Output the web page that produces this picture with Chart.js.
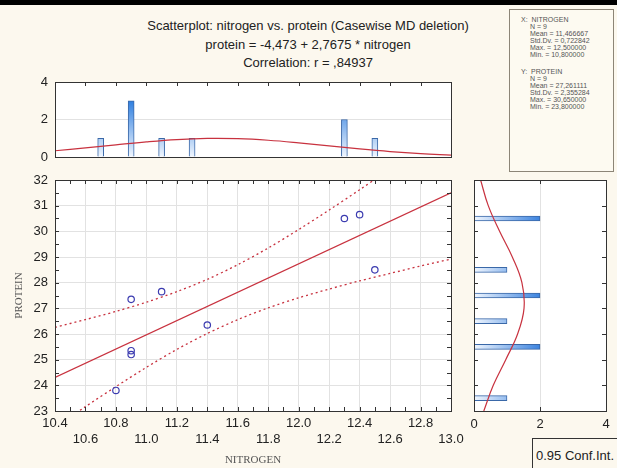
<!DOCTYPE html>
<html>
<head>
<meta charset="utf-8">
<script src="https://cdn.jsdelivr.net/npm/chart.js@4.4.1/dist/chart.umd.min.js"></script>
<style>
  html, body { margin: 0; padding: 0; }
  body { width: 617px; height: 468px; background: #fcf8ee; position: relative; overflow: hidden;
         font-family: "Liberation Sans", Arial, sans-serif; }
  canvas { position: absolute; }
  .topbar { position: absolute; left: 0; top: 0; width: 617px; height: 5px; background: #000; }
  .title { position: absolute; left: 100px; width: 416px; text-align: center; font-size: 13px; color: #222;
           line-height: 16px; white-space: nowrap; }
  .stats { position: absolute; left: 509px; top: 9px; width: 103px; height: 161px; border: 1px solid #8c8577;
           background: #fdfaf1; font-size: 7px; line-height: 7px; color: #555; }
  .stats div { position: absolute; white-space: nowrap; }
  .conf { position: absolute; left: 532px; top: 438px; width: 100px; height: 40px; border: 1px solid #333;
          background: #fcf8ee; font-size: 13px; color: #222; }
  .conf span { position: absolute; left: 3px; top: 9px; }
</style>
</head>
<body>
<div class="topbar"></div>
<div class="title" style="top:18px">Scatterplot: nitrogen vs. protein (Casewise MD deletion)</div>
<div class="title" style="top:37px">protein = -4,473 + 2,7675 * nitrogen</div>
<div class="title" style="top:55px">Correlation: r = ,84937</div>

<div class="stats">
  <div style="left:11px;top:6px">X:&nbsp; NITROGEN</div>
  <div style="left:20px;top:13px">N = 9</div>
  <div style="left:20px;top:20px">Mean = 11,466667</div>
  <div style="left:20px;top:27px">Std.Dv. = 0,722842</div>
  <div style="left:20px;top:34px">Max. = 12,500000</div>
  <div style="left:20px;top:41px">Min. = 10,800000</div>
  <div style="left:11px;top:58px">Y:&nbsp; PROTEIN</div>
  <div style="left:20px;top:65px">N = 9</div>
  <div style="left:20px;top:72px">Mean = 27,261111</div>
  <div style="left:20px;top:79px">Std.Dv. = 2,355284</div>
  <div style="left:20px;top:86px">Max. = 30,650000</div>
  <div style="left:20px;top:93px">Min. = 23,800000</div>
</div>

<canvas id="topHist" width="470" height="90" style="left:0;top:75px"></canvas>
<canvas id="mainChart" width="470" height="298" style="left:0;top:170px"></canvas>
<canvas id="rightHist" width="157" height="298" style="left:460px;top:170px"></canvas>

<div class="conf"><span>0.95 Conf.Int.</span></div>

<script>
// --- data ---
const nitrogen = [10.8, 10.9, 10.9, 10.9, 11.1, 11.4, 12.3, 12.4, 12.5];
const protein  = [23.8, 25.2, 25.35, 27.35, 27.65, 26.35, 30.5, 30.65, 28.5];

const fitX = [10.4, 13.0];
const fitY = [24.31, 31.5];

const bandX     = [10.4, 10.6, 10.8, 11.0, 11.2, 11.4, 11.6, 11.8, 12.0, 12.2, 12.4, 12.6, 12.8, 13.0];
const bandUpper = [26.26, 26.56, 26.88, 27.24, 27.65, 28.13, 28.70, 29.35, 30.07, 30.83, 31.62, 32.43, 33.25, 34.08];
const bandLower = [22.36, 23.17, 23.95, 24.70, 25.40, 26.02, 26.56, 27.02, 27.41, 27.75, 28.07, 28.36, 28.65, 28.92];

const nitroBins   = [10.7, 10.9, 11.1, 11.3, 12.3, 12.5];
const nitroCounts = [1, 3, 1, 1, 2, 1];
const nitroCurve  = [0.334, 0.484, 0.649, 0.806, 0.928, 0.989, 0.976, 0.893, 0.756, 0.594, 0.431, 0.290, 0.181, 0.104];

const proteinBins   = [23.5, 25.5, 26.5, 27.5, 28.5, 30.5];
const proteinCounts = [1, 2, 1, 2, 1, 2];
const proteinCurveY = [23, 24, 25, 26, 27, 28, 29, 30, 31, 32];
const proteinCurve  = [0.297, 0.584, 0.962, 1.321, 1.516, 1.452, 1.161, 0.775, 0.432, 0.200];

const xTicks = { min: 10.4, max: 13.0, step: 0.2 };
const yTicks = { min: 23, max: 32, step: 1 };
const countTicks = { min: 0, max: 4, step: 2 };

Chart.defaults.font.family = '"Liberation Sans", Arial, sans-serif';
Chart.defaults.font.size = 13;
Chart.defaults.color = '#222';

const RED = '#c8323f';
const GRID = '#e2e2e2';

// white plot area, black frame and small inward ticks
const framePlugin = {
  id: 'frame',
  beforeDraw(chart) {
    const { ctx, chartArea: a } = chart;
    ctx.save();
    ctx.fillStyle = '#fff';
    ctx.fillRect(a.left, a.top, a.right - a.left, a.bottom - a.top);
    ctx.restore();
  },
  afterDraw(chart, args, opts) {
    const { ctx, chartArea: a, scales } = chart;
    ctx.save();
    ctx.strokeStyle = '#333';
    ctx.lineWidth = 1;
    ctx.beginPath();
    (opts.marks || []).forEach(m => {
      const s = scales[m.axis];
      const n = Math.round((m.to - m.from) / m.step);
      for (let i = 0; i <= n; i++) {
        const p = Math.round(s.getPixelForValue(m.from + i * m.step)) + 0.5;
        if (m.side === 'top')    { ctx.moveTo(p, a.top);    ctx.lineTo(p, a.top + 4); }
        if (m.side === 'bottom') { ctx.moveTo(p, a.bottom); ctx.lineTo(p, a.bottom - 4); }
        if (m.side === 'left')   { ctx.moveTo(a.left, p);   ctx.lineTo(a.left + 4, p); }
        if (m.side === 'right')  { ctx.moveTo(a.right, p);  ctx.lineTo(a.right - 4, p); }
      }
    });
    ctx.stroke();
    ctx.strokeRect(Math.round(a.left) + 0.5, Math.round(a.top) + 0.5,
                   Math.round(a.right - a.left), Math.round(a.bottom - a.top));
    ctx.restore();
  }
};

// fixed axis sizes, no automatic edge padding from tick labels
function noPad(s) { s.paddingTop = 0; s.paddingBottom = 0; s.paddingLeft = 0; s.paddingRight = 0; }
function fixWidth(w)  { return s => { s.width = w; noPad(s); }; }
function fixHeight(h) { return s => { s.height = h; noPad(s); }; }

// --- main scatterplot ---
new Chart(document.getElementById('mainChart'), {
  type: 'scatter',
  data: {
    datasets: [
      {
        label: 'data',
        data: nitrogen.map((x, i) => ({ x: x, y: protein[i] })),
        pointStyle: 'circle',
        pointRadius: 3.2,
        pointBorderWidth: 1.2,
        pointBorderColor: '#3b3bb0',
        pointBackgroundColor: 'rgba(0,0,0,0)',
        order: 0
      },
      {
        label: 'fit',
        data: fitX.map((x, i) => ({ x: x, y: fitY[i] })),
        showLine: true,
        borderColor: RED,
        borderWidth: 1.3,
        pointRadius: 0,
        order: 1
      },
      {
        label: 'upper',
        data: bandX.map((x, i) => ({ x: x, y: bandUpper[i] })),
        showLine: true,
        tension: 0.3,
        borderColor: RED,
        borderWidth: 1.3,
        borderDash: [2, 3],
        pointRadius: 0,
        order: 1
      },
      {
        label: 'lower',
        data: bandX.map((x, i) => ({ x: x, y: bandLower[i] })),
        showLine: true,
        tension: 0.3,
        borderColor: RED,
        borderWidth: 1.3,
        borderDash: [2, 3],
        pointRadius: 0,
        order: 1
      }
    ]
  },
  options: {
    responsive: false,
    animation: false,
    layout: { padding: { top: 10, right: 19, left: 0, bottom: 0 } },
    plugins: {
      legend: { display: false },
      tooltip: { enabled: false },
      frame: {
        marks: [
          { axis: 'x', side: 'top', from: 10.5, to: 12.9, step: 0.1 },
          { axis: 'x', side: 'bottom', from: 10.5, to: 12.9, step: 0.1 },
          { axis: 'y', side: 'left', from: 23.5, to: 31.5, step: 0.5 },
          { axis: 'y', side: 'right', from: 23.5, to: 31.5, step: 0.5 }
        ]
      }
    },
    scales: {
      x: {
        type: 'linear',
        min: xTicks.min, max: xTicks.max,
        afterFit: fixHeight(57),
        border: { display: false },
        grid: { color: GRID, drawTicks: false },
        ticks: {
          stepSize: xTicks.step,
          autoSkip: false,
          maxRotation: 0,
          padding: 5,
          callback: (v, i) => i % 2 === 0 ? [v.toFixed(1), ''] : ['', v.toFixed(1)]
        },
        title: {
          display: true,
          text: 'NITROGEN',
          color: '#555',
          font: { family: '"Liberation Serif", "Times New Roman", serif', size: 11 },
          padding: { top: 0, bottom: 1 }
        }
      },
      y: {
        type: 'linear',
        min: yTicks.min, max: yTicks.max,
        afterFit: fixWidth(55),
        border: { display: false },
        grid: { color: GRID, drawTicks: false },
        ticks: { stepSize: yTicks.step, padding: 7 },
        title: {
          display: true,
          text: 'PROTEIN',
          color: '#555',
          font: { family: '"Liberation Serif", "Times New Roman", serif', size: 11 },
          padding: { top: 13, bottom: 0 }
        }
      }
    }
  },
  plugins: [framePlugin]
});

// --- nitrogen histogram (top) ---
new Chart(document.getElementById('topHist'), {
  type: 'bar',
  data: {
    datasets: [
      {
        type: 'line',
        data: bandX.map((x, i) => ({ x: x, y: nitroCurve[i] })),
        borderColor: RED,
        borderWidth: 1.2,
        tension: 0.4,
        pointRadius: 0,
        order: 0
      },
      {
        data: nitroBins.map((x, i) => ({ x: x, y: nitroCounts[i] })),
        barThickness: 6,
        borderWidth: 1,
        borderColor: '#3a68a8',
        backgroundColor: (c) => {
          const a = c.chart.chartArea;
          if (!a) return '#9cc3ee';
          const g = c.chart.ctx.createLinearGradient(0, a.bottom, 0, a.top);
          g.addColorStop(0, '#f0f6fe');
          g.addColorStop(0.75, '#2f7fe0');
          g.addColorStop(1, '#1f6bd0');
          return g;
        },
        order: 1
      }
    ]
  },
  options: {
    responsive: false,
    animation: false,
    layout: { padding: { top: 7, right: 19, left: 0, bottom: 8 } },
    plugins: {
      legend: { display: false },
      tooltip: { enabled: false },
      frame: {
        marks: [ { axis: 'x', side: 'top', from: 10.6, to: 12.8, step: 0.2 } ]
      }
    },
    scales: {
      x: {
        type: 'linear',
        display: false,
        offset: false,
        min: xTicks.min, max: xTicks.max
      },
      y: {
        type: 'linear',
        min: countTicks.min, max: countTicks.max,
        afterFit: fixWidth(55),
        border: { display: false },
        grid: { color: GRID, drawTicks: false },
        ticks: { stepSize: countTicks.step, padding: 7 }
      }
    }
  },
  plugins: [framePlugin]
});

// --- protein histogram (right) ---
new Chart(document.getElementById('rightHist'), {
  type: 'bar',
  data: {
    datasets: [
      {
        type: 'scatter',
        data: proteinCurveY.map((y, i) => ({ x: proteinCurve[i], y: y })),
        showLine: true,
        borderColor: RED,
        borderWidth: 1.2,
        tension: 0.4,
        pointRadius: 0,
        order: 0
      },
      {
        data: proteinBins.map((y, i) => ({ x: proteinCounts[i], y: y })),
        barThickness: 5,
        borderWidth: 1,
        borderColor: '#3a68a8',
        backgroundColor: (c) => {
          const a = c.chart.chartArea;
          if (!a) return '#9cc3ee';
          const sx = c.chart.scales.x;
          const g = c.chart.ctx.createLinearGradient(sx.getPixelForValue(0), 0, sx.getPixelForValue(2.2), 0);
          g.addColorStop(0, '#f0f6fe');
          g.addColorStop(1, '#2a78dc');
          return g;
        },
        order: 1
      }
    ]
  },
  options: {
    responsive: false,
    animation: false,
    indexAxis: 'y',
    layout: { padding: { top: 10, right: 11, left: 14, bottom: 0 } },
    plugins: {
      legend: { display: false },
      tooltip: { enabled: false },
      frame: {
        marks: [
          { axis: 'y', side: 'left', from: 24, to: 31, step: 1 },
          { axis: 'y', side: 'right', from: 24, to: 31, step: 1 },
          { axis: 'x', side: 'top', from: 2, to: 2, step: 2 },
          { axis: 'x', side: 'bottom', from: 2, to: 2, step: 2 }
        ]
      }
    },
    scales: {
      x: {
        type: 'linear',
        position: 'bottom',
        min: countTicks.min, max: countTicks.max,
        afterFit: fixHeight(57),
        border: { display: false },
        grid: { color: GRID, drawTicks: false },
        ticks: { stepSize: countTicks.step, padding: 6 }
      },
      y: {
        type: 'linear',
        position: 'left',
        display: false,
        offset: false,
        min: yTicks.min, max: yTicks.max
      }
    }
  },
  plugins: [framePlugin]
});
</script>
</body>
</html>
